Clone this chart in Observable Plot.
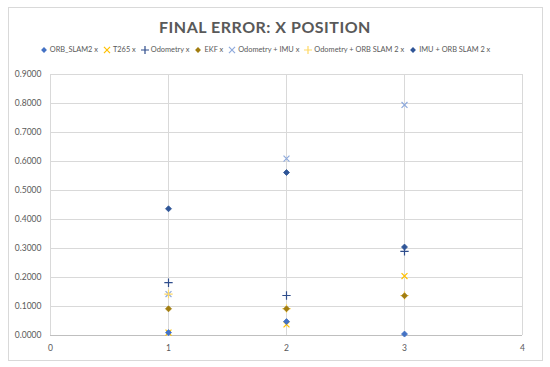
<!DOCTYPE html>
<html>
<head>
<meta charset="utf-8">
<script src="https://cdn.jsdelivr.net/npm/d3@7"></script>
<script src="https://cdn.jsdelivr.net/npm/@observablehq/plot@0.6"></script>
<style>
  html, body { margin: 0; padding: 0; background: #fff; }
  #wrap { position: relative; width: 550px; height: 367px; font-family: Lato, "Open Sans", sans-serif; }
  #frame { position: absolute; left: 8px; top: 7px; width: 535px; height: 354px; border: 1px solid #d9d9d9; box-sizing: border-box; }
  #title { position: absolute; left: 0; top: 17px; width: 530px; text-align: center; font-size: 16px; font-weight: 700; color: #595959; letter-spacing: 0.5px; }
  #legend { position: absolute; left: 0; top: 45px; width: 530px; display: flex; justify-content: center; gap: 5px; font-size: 7.4px; color: #595959; }
  #legend span.item { display: inline-flex; align-items: center; gap: 2px; white-space: nowrap; }
  #legend svg { display: block; }
  #chart { position: absolute; left: 0; top: 62px; }
</style>
</head>
<body>
<div id="wrap">
  <div id="frame"></div>
  <div id="title">FINAL ERROR: X POSITION</div>
  <div id="legend"></div>
  <div id="chart"></div>
</div>
<script>
const xCategories = [1, 2, 3];
const seriesNames = ["ORB_SLAM2 x", "T265 x", "Odometry x", "EKF x", "Odometry + IMU x", "Odometry + ORB SLAM 2 x", "IMU + ORB SLAM 2 x"];
const orbSlam2 = [0.010, 0.048, 0.005];
const t265 = [0.010, 0.038, 0.205];
const odometry = [0.182, 0.138, 0.290];
const ekf = [0.092, 0.092, 0.137];
const odometryImu = [0.143, 0.610, 0.795];
const odometryOrb = [0.143, 0.093, 0.138];
const imuOrb = [0.437, 0.562, 0.305];
const seriesColors = ["#4472C4", "#FFC000", "#2F4D8C", "#A27D0F", "#8FAADC", "#FFD966", "#2F5597"];
const seriesSymbols = ["diamond2", "times", "plus", "diamond2", "times", "plus", "diamond2"];
const yTicks = [0, 0.1, 0.2, 0.3, 0.4, 0.5, 0.6, 0.7, 0.8, 0.9];
const xTicks = [0, 1, 2, 3, 4];

const allValues = [orbSlam2, t265, odometry, ekf, odometryImu, odometryOrb, imuOrb];
const data = [];
allValues.forEach((vals, si) => {
  vals.forEach((v, i) => data.push({series: seriesNames[si], x: xCategories[i], y: v, color: seriesColors[si], symbol: seriesSymbols[si]}));
});
const filled = data.filter(d => d.symbol === "diamond2");
const stroked = data.filter(d => d.symbol !== "diamond2");

const plot = Plot.plot({
  width: 550,
  height: 300,
  marginLeft: 50,
  marginRight: 28,
  marginTop: 12,
  marginBottom: 27,
  style: {fontFamily: "Lato, 'Open Sans', sans-serif", fontSize: "8.5px", color: "#595959", background: "transparent"},
  x: {domain: [0, 4], label: null},
  y: {domain: [0, 0.9], label: null},
  symbol: {type: "identity"},
  marks: [
    Plot.ruleY(yTicks, {stroke: "#d9d9d9", strokeWidth: 1}),
    Plot.ruleX(xTicks, {stroke: "#d9d9d9", strokeWidth: 1}),
    Plot.ruleY([0], {stroke: "#bfbfbf", strokeWidth: 1}),
    Plot.axisX({ticks: xTicks, tickFormat: d3.format("d"), tickSize: 0, tickPadding: 9, fill: "#595959"}),
    Plot.axisY({ticks: yTicks, tickFormat: d3.format(".4f"), tickSize: 0, tickPadding: 9, fill: "#595959"}),
    Plot.dot(stroked, {x: "x", y: "y", symbol: "symbol", stroke: "color", r: 2.8, strokeWidth: 1.2}),
    Plot.dot(filled, {x: "x", y: "y", symbol: "symbol", fill: "color", stroke: "color", strokeWidth: 0.8, r: 2.7})
  ]
});
document.getElementById("chart").appendChild(plot);

// legend
const leg = document.getElementById("legend");
const paths = {
  diamond2: d3.symbol(d3.symbolDiamond2, 22)(),
  times: d3.symbol(d3.symbolTimes, 26)(),
  plus: d3.symbol(d3.symbolPlus, 26)()
};
seriesNames.forEach((name, i) => {
  const sym = seriesSymbols[i];
  const item = document.createElement("span");
  item.className = "item";
  const fillAttr = sym === "diamond2" ? `fill="${seriesColors[i]}"` : `fill="none" stroke="${seriesColors[i]}" stroke-width="1.2"`;
  item.innerHTML = `<svg width="8" height="8" viewBox="-4 -4 8 8"><path d="${paths[sym]}" ${fillAttr}/></svg><span>${name}</span>`;
  leg.appendChild(item);
});
</script>
</body>
</html>
